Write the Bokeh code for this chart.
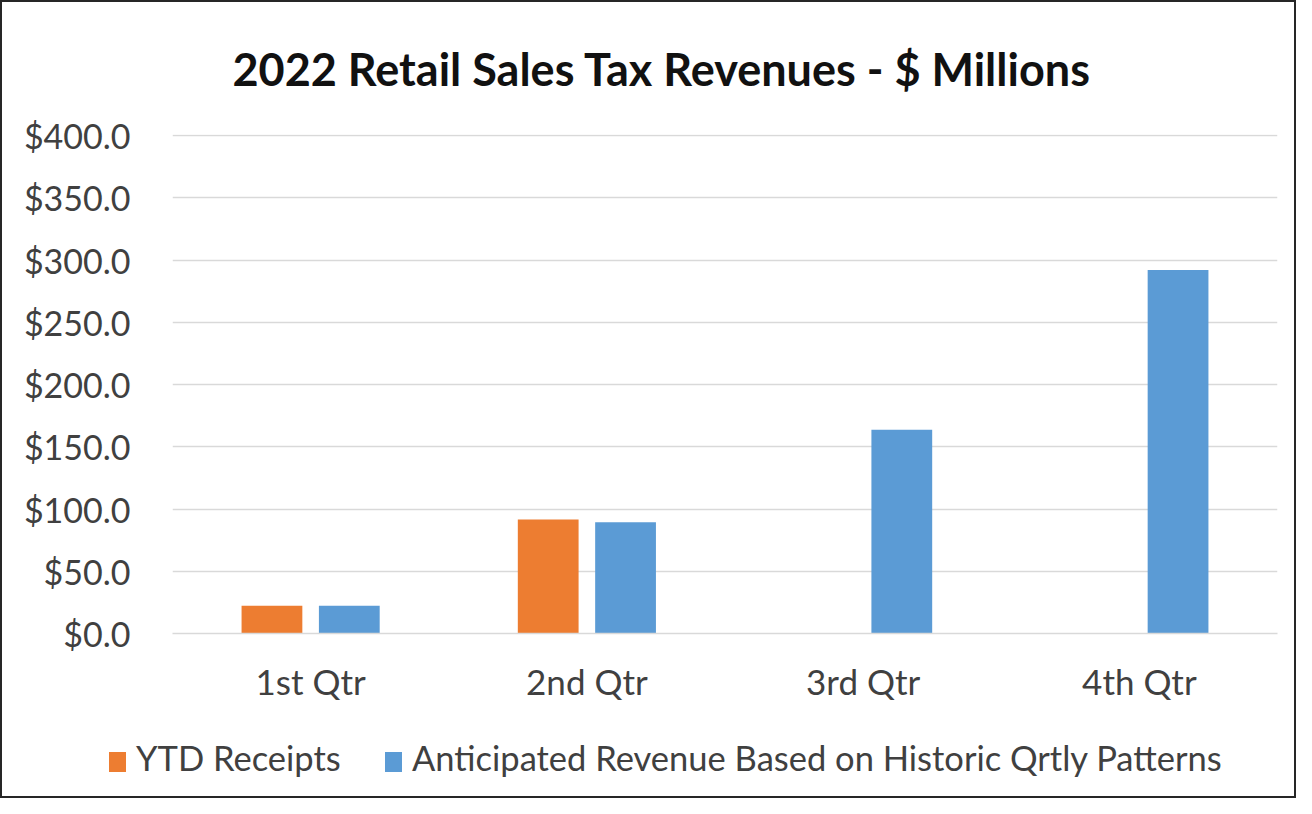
from bokeh.plotting import figure
from bokeh.layouts import column
from bokeh.models import (ColumnDataSource, FactorRange, Range1d, NumeralTickFormatter,
                          SingleIntervalTicker, Div)
from bokeh.transform import dodge
from bokeh.embed import file_html
from bokeh.resources import INLINE

# ---- data ----
quarters = ["1st Qtr", "2nd Qtr", "3rd Qtr", "4th Qtr"]
ytd_receipts = [22.4, 91.7, float("nan"), float("nan")]
anticipated = [22.4, 89.5, 163.7, 292.2]
series_names = ["YTD Receipts", "Anticipated Revenue Based on Historic Qrtly Patterns"]
title_text = "2022 Retail Sales Tax Revenues - $ Millions"

ORANGE = "#ED7D31"
BLUE = "#5B9BD5"
TEXT = "#404040"
GRID = "#D9D9D9"
FONT = "Lato"

src = ColumnDataSource(dict(q=quarters, ytd=ytd_receipts, ant=anticipated))

p = figure(width=1296, height=720, x_range=FactorRange(factors=quarters, range_padding=0),
           y_range=Range1d(0, 401), output_backend="svg", toolbar_location=None,
           min_border_left=172, min_border_right=19, min_border_top=134, min_border_bottom=87,
           background_fill_color="white", border_fill_color="white")
p.outline_line_color = None

p.vbar(x=dodge("q", -0.14, range=p.x_range), top="ytd", width=0.22, source=src,
       fill_color=ORANGE, line_color=None)
p.vbar(x=dodge("q", 0.14, range=p.x_range), top="ant", width=0.22, source=src,
       fill_color=BLUE, line_color=None)

# title
p.title.text = title_text
p.title.align = "left"
p.title.offset = 60
p.title.standoff = 78
p.title.text_font = FONT
p.title.text_font_style = "bold"
p.title.text_font_size = "45px"
p.title.text_color = "#111111"

# axes
p.yaxis.ticker = SingleIntervalTicker(interval=50)
p.yaxis.formatter = NumeralTickFormatter(format="$0.0")
p.yaxis.axis_line_color = None
p.yaxis.major_tick_line_color = None
p.yaxis.minor_tick_line_color = None
p.yaxis.major_tick_out = 0
p.yaxis.major_label_standoff = 38
p.yaxis.major_label_text_font = FONT
p.yaxis.major_label_text_font_size = "34px"
p.yaxis.major_label_text_color = TEXT

p.xaxis.axis_line_color = GRID
p.xaxis.axis_line_width = 1.5
p.xaxis.major_tick_line_color = None
p.xaxis.minor_tick_line_color = None
p.xaxis.major_tick_out = 0
p.xaxis.major_label_standoff = 26
p.xaxis.major_label_text_font = FONT
p.xaxis.major_label_text_font_size = "35px"
p.xaxis.major_label_text_color = TEXT

p.xgrid.grid_line_color = None
p.ygrid.grid_line_color = GRID
p.ygrid.grid_line_width = 1.5

# legend strip below the chart (plus the chart's outer border)
swatch_left = [109, 385]
label_left = [136, 412]
colors = [ORANGE, BLUE]
parts = []
for name, c, sl, tl in zip(series_names, colors, swatch_left, label_left):
    parts.append(f'<span style="position:absolute;left:{sl}px;top:32px;width:17px;height:20px;'
                 f'background:{c};"></span>')
    parts.append(f'<span style="position:absolute;left:{tl}px;top:21px;line-height:1;'
                 f'white-space:nowrap;">{name}</span>')
parts.append('<span style="position:absolute;left:0px;top:-720px;width:1296px;height:798px;'
             'box-sizing:border-box;border:2px solid #262626;pointer-events:none;"></span>')
legend_html = ('<div style="position:relative;width:1296px;height:78px;overflow:visible;'
               f'font-family:{FONT};font-size:34.5px;color:{TEXT};">' + "".join(parts) + "</div>")
legend_div = Div(text=legend_html, width=1296, height=78, margin=0,
                 styles={"overflow": "visible"})

layout = column(p, legend_div, spacing=0)

open("out.html", "w").write(file_html(layout, INLINE))
